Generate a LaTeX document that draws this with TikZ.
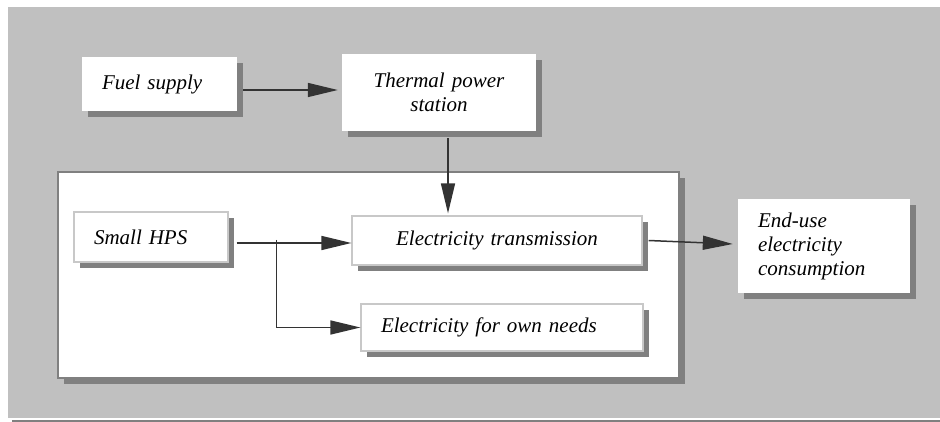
\documentclass[tikz,border=0pt]{standalone}
\usepackage{fontspec}
\setmainfont{Liberation Serif}
\usetikzlibrary{arrows.meta,shadows}

\definecolor{bggray}{RGB}{192,192,192}
\definecolor{shadowgray}{RGB}{128,128,128}
\definecolor{linegray}{RGB}{51,51,51}
\definecolor{edgegray}{RGB}{200,200,200}

\tikzset{
  box/.style={fill=white, inner xsep=20pt, inner ysep=0pt,
    font=\fontsize{21}{24}\selectfont\itshape,
    drop shadow={shadow xshift=6pt, shadow yshift=-6pt, fill=shadowgray, opacity=1}},
  inbox/.style={box, draw=edgegray, line width=1.2pt},
  frame/.style={fill=white, draw=shadowgray, line width=1.3pt, inner sep=0pt,
    drop shadow={shadow xshift=6pt, shadow yshift=-6pt, fill=shadowgray, opacity=1}},
  flow/.style={draw=linegray, line width=1.5pt, -{Triangle[length=30pt,width=14pt]}},
}

\begin{document}
\begin{tikzpicture}[x=1pt,y=-1pt]
    \useasboundingbox (0,0) rectangle (940,422);
    \fill[bggray] (8,7) rectangle (940,418);
    \draw[shadowgray, line width=1.5pt] (12,421) -- (940,421);

    % outside the plant
    \node[box, text width=115pt, align=left, minimum height=54pt] (fuel) at (159.5,84) {Fuel supply};
    \node[box, text width=154pt, align=center, minimum height=77pt] (thermal) at (439,92.5) {Thermal power\\station};
    \node[box, text width=132pt, align=left, minimum height=94pt] (enduse) at (824,246) {End-use\\electricity\\consumption};

    % the plant
    \node[frame, minimum width=621pt, minimum height=206pt] (plant) at (368.5,275) {};
    \node[inbox, text width=114pt, align=left, minimum height=50pt] (hps) at (151,237) {Small HPS};
    \node[inbox, text width=250pt, align=center, minimum height=49pt] (trans) at (497,240.5) {Electricity transmission};
    \node[inbox, text width=242pt, align=left, minimum height=47pt] (own) at (502,327.5) {Electricity for own needs};

    \draw[flow] ([xshift=6pt,yshift=-6pt]fuel.east) -- ([xshift=-4pt,yshift=-6pt]fuel.east -| thermal.west);
    \draw[flow] ([xshift=9pt,yshift=-7pt]thermal.south) -- ([xshift=9pt,yshift=2pt]thermal.south |- trans.north);
    \draw[flow] ([xshift=8pt,yshift=-6pt]hps.east) -- ([yshift=-6pt]hps.east -| trans.west);
    \coordinate (split) at ([xshift=48pt,yshift=-3pt]hps.east);
    \draw[flow] (split) |- (own.west);
    \draw[flow] ([xshift=6pt]trans.east) -- ([xshift=-5pt,yshift=2pt]enduse.west);
\end{tikzpicture}
\end{document}
